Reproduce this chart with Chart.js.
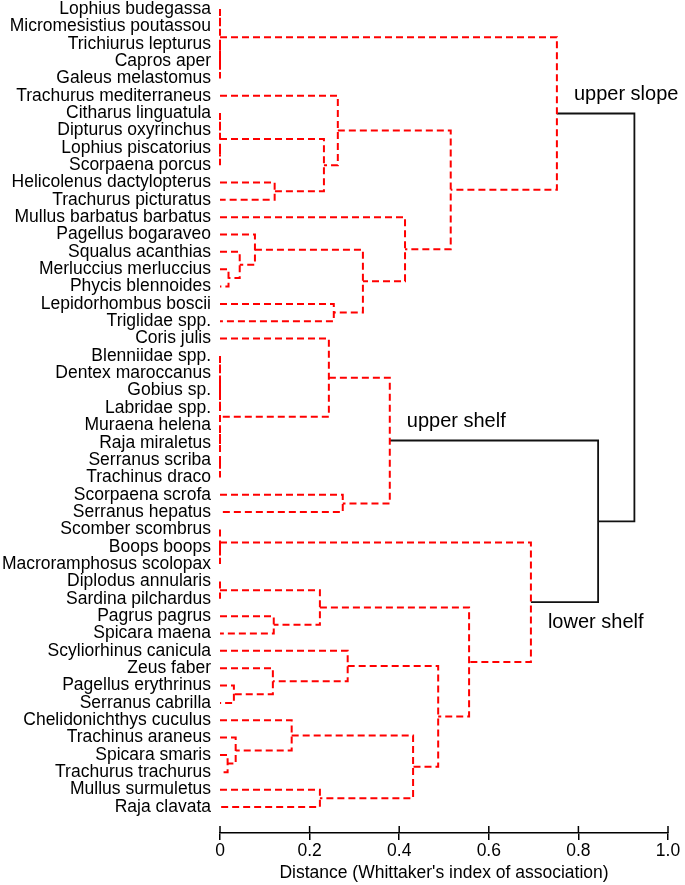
<!DOCTYPE html>
<html>
<head>
<meta charset="utf-8">
<title>Dendrogram</title>
<script src="https://cdn.jsdelivr.net/npm/chart.js@4.4.0/dist/chart.umd.min.js"></script>
<style>
  body { margin: 0; background: #fff; }
</style>
</head>
<body>
<canvas id="chart" width="685" height="885"></canvas>
<script>
const leaves = [
  "Lophius budegassa", "Micromesistius poutassou", "Trichiurus lepturus", "Capros aper",
  "Galeus melastomus", "Trachurus mediterraneus", "Citharus linguatula", "Dipturus oxyrinchus",
  "Lophius piscatorius", "Scorpaena porcus", "Helicolenus dactylopterus", "Trachurus picturatus",
  "Mullus barbatus barbatus", "Pagellus bogaraveo", "Squalus acanthias", "Merluccius merluccius",
  "Phycis blennoides", "Lepidorhombus boscii", "Triglidae spp.", "Coris julis",
  "Blenniidae spp.", "Dentex maroccanus", "Gobius sp.", "Labridae spp.",
  "Muraena helena", "Raja miraletus", "Serranus scriba", "Trachinus draco",
  "Scorpaena scrofa", "Serranus hepatus", "Scomber scombrus", "Boops boops",
  "Macroramphosus scolopax", "Diplodus annularis", "Sardina pilchardus", "Pagrus pagrus",
  "Spicara maena", "Scyliorhinus canicula", "Zeus faber", "Pagellus erythrinus",
  "Serranus cabrilla", "Chelidonichthys cuculus", "Trachinus araneus", "Spicara smaris",
  "Trachurus trachurus", "Mullus surmuletus", "Raja clavata"
];

// [childA, childB, distance]; ids below leaves.length are leaves, the rest are earlier merges
const merges = [
  [0, 1, 0], [3, 4, 0], [2, 48, 0], [47, 49, 0],
  [6, 7, 0], [8, 9, 0], [51, 52, 0],
  [10, 11, 0.122], [53, 54, 0.232], [5, 55, 0.263],
  [15, 16, 0.019], [14, 57, 0.044], [13, 58, 0.078],
  [17, 18, 0.254], [59, 60, 0.319], [12, 61, 0.413],
  [56, 62, 0.515], [50, 63, 0.752],
  [20, 21, 0], [22, 23, 0], [24, 25, 0], [26, 27, 0],
  [65, 66, 0], [67, 68, 0], [69, 70, 0],
  [19, 71, 0.243], [28, 29, 0.274], [72, 73, 0.379],
  [31, 32, 0], [30, 75, 0], [33, 34, 0],
  [35, 36, 0.120], [77, 78, 0.223],
  [39, 40, 0.031], [38, 80, 0.118], [37, 81, 0.285],
  [43, 44, 0.017], [42, 83, 0.035], [41, 84, 0.160],
  [45, 46, 0.223], [85, 86, 0.431], [82, 87, 0.487],
  [79, 88, 0.556], [76, 89, 0.694],
  [74, 90, 0.844], [64, 91, 0.925]
];

const xTicks = [0, 0.2, 0.4, 0.6, 0.8, 1.0];

const groups = [
  { text: "upper slope", merge: 17, side: "above" },
  { text: "upper shelf", merge: 27, side: "above" },
  { text: "lower shelf", merge: 43, side: "below" }
];

const cutHeight = 0.8; // links above this are the solid black ones

// node positions: leaves sit at their index, a merge sits between its two children
const nodeY = leaves.map((_, i) => i);
const nodeH = leaves.map(() => 0);
merges.forEach(([a, b, h]) => {
  nodeY.push((nodeY[a] + nodeY[b]) / 2);
  nodeH.push(h);
});

const datasets = merges.map(([a, b, h]) => {
  const top = h > cutHeight;
  return {
    data: [
      { x: nodeH[a], y: nodeY[a] },
      { x: h, y: nodeY[a] },
      { x: h, y: nodeY[b] },
      { x: nodeH[b], y: nodeY[b] }
    ],
    borderColor: top ? "#111" : "#ff0000",
    borderWidth: top ? 1.8 : 2,
    borderDash: top ? [] : [7, 4],
    pointRadius: 0,
    fill: false,
    tension: 0,
    clip: false
  };
});

const labelPlugin = {
  id: "groupLabels",
  afterDraw(chart) {
    const { ctx, scales: { x, y } } = chart;
    ctx.save();
    // upper half of the x tick marks
    ctx.strokeStyle = "#000";
    ctx.lineWidth = 1.5;
    x.ticks.forEach((t) => {
      const px = x.getPixelForValue(t.value);
      ctx.beginPath();
      ctx.moveTo(px, x.top);
      ctx.lineTo(px, x.top - 7);
      ctx.stroke();
    });
    ctx.font = "20px 'Liberation Sans', Arial, sans-serif";
    ctx.fillStyle = "#000";
    ctx.textBaseline = "middle";
    groups.forEach((g) => {
      const id = leaves.length + g.merge;
      const px = x.getPixelForValue(nodeH[id]) + 17;
      const py = y.getPixelForValue(nodeY[id]) + (g.side === "above" ? -19 : 20);
      ctx.fillText(g.text, px, py);
    });
    ctx.restore();
  }
};

Chart.defaults.font.family = "'Liberation Sans', Arial, sans-serif";
Chart.defaults.color = "#000";

const ctx = document.getElementById("chart").getContext("2d");
new Chart(ctx, {
  type: "line",
  data: { datasets: datasets },
  options: {
    responsive: false,
    animation: false,
    layout: { padding: { top: 0, right: 17, bottom: 0, left: 0 } },
    plugins: { legend: { display: false }, tooltip: { enabled: false } },
    scales: {
      x: {
        type: "linear",
        min: 0,
        max: 1,
        afterBuildTicks: (s) => { s.ticks = xTicks.map((v) => ({ value: v })); },
        afterFit: (s) => { s.height = 52; },
        border: { display: true, color: "#000", width: 1.5 },
        grid: { drawOnChartArea: false, drawTicks: true, tickLength: 7, color: "#000", lineWidth: 1.5 },
        ticks: {
          padding: 1,
          color: "#000",
          font: { size: 17.5 },
          callback: (v) => (v === 0 ? "0" : v.toFixed(1))
        },
        title: {
          display: true,
          text: "Distance (Whittaker's index of association)",
          color: "#000",
          font: { size: 17.5 },
          padding: { top: 0, bottom: 1.5 }
        }
      },
      y: {
        type: "linear",
        reverse: true,
        min: 0,
        max: 47.5,
        afterBuildTicks: (s) => { s.ticks = leaves.map((_, i) => ({ value: i })); },
        afterFit: (s) => { s.width = 220; s.paddingTop = 9; s.paddingBottom = 0; },
        border: { display: false },
        grid: { display: false, drawTicks: false, tickLength: 0 },
        ticks: {
          autoSkip: false,
          padding: 9,
          color: "#000",
          font: { size: 17.5 },
          callback: (v) => leaves[v]
        }
      }
    }
  },
  plugins: [labelPlugin]
});
</script>
</body>
</html>
